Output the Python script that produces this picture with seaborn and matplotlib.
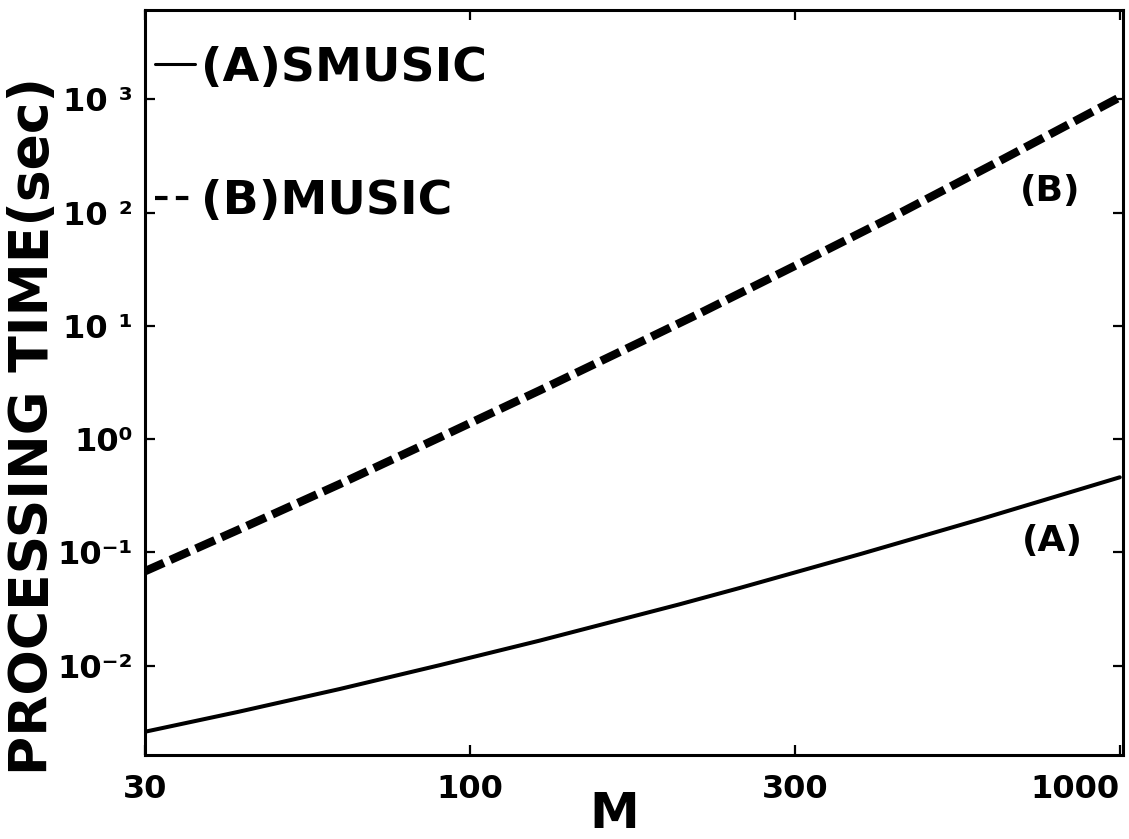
import matplotlib
matplotlib.use("Agg")
import matplotlib.pyplot as plt
import seaborn as sns
import pandas as pd
from matplotlib.lines import Line2D
from matplotlib.ticker import FixedLocator, NullLocator

# ---- data ----
M_A = [31.6, 44, 63, 90, 128, 210, 260, 400, 610, 1000]
T_A = [0.0026, 0.0039, 0.0062, 0.0101, 0.0166, 0.0347, 0.0484, 0.097, 0.196, 0.46]
M_B = [31.6, 44, 63, 90, 128, 182, 225, 323, 463, 662, 1000]
T_B = [0.068, 0.158, 0.40, 1.04, 2.69, 7.1, 12.8, 36, 102, 298, 1045]

x_tick_vals = [10 ** 1.5, 100, 10 ** 2.5, 1000]
x_tick_labels = ["30", "100", "300", "1000"]
y_tick_vals = [1e-2, 1e-1, 1, 10, 100, 1000]
y_tick_labels = ["10\u207b\u00b2", "10\u207b\u00b9", "10\u2070", "10 \u00b9", "10 \u00b2", "10 \u00b3"]

series_labels = ["(A)SMUSIC", "(B)MUSIC"]

sns.set_theme(style="white")
plt.rcParams["font.family"] = ["DejaVu Sans"]
plt.rcParams["font.weight"] = "bold"
plt.rcParams["text.color"] = "black"
plt.rcParams["axes.labelcolor"] = "black"
plt.rcParams["xtick.color"] = "black"
plt.rcParams["ytick.color"] = "black"

fig = plt.figure(figsize=(11.29, 8.39), dpi=100)
ax = fig.add_axes([145 / 1129, 84 / 839, 978 / 1129, 745 / 839])

dfA = pd.DataFrame({"M": M_A, "T": T_A})
dfB = pd.DataFrame({"M": M_B, "T": T_B})
sns.lineplot(data=dfA, x="M", y="T", ax=ax, color="black", lw=2.9, estimator=None)
sns.lineplot(data=dfB, x="M", y="T", ax=ax, color="black", lw=6.0,
             linestyle=(0, (2.5, 0.85)), estimator=None)

ax.set_xscale("log")
ax.set_yscale("log")
ax.set_xlim(10 ** 1.5, 10 ** 3.005)
ax.set_ylim(10 ** -2.79, 10 ** 3.79)

ax.xaxis.set_major_locator(FixedLocator(x_tick_vals))
ax.xaxis.set_minor_locator(NullLocator())
ax.yaxis.set_major_locator(FixedLocator(y_tick_vals))
ax.yaxis.set_minor_locator(NullLocator())
ax.set_xticklabels(x_tick_labels, fontsize=23, fontweight="bold", color="black")
ax.set_yticklabels(y_tick_labels, fontsize=23, fontweight="bold", color="black")
xl = ax.get_xticklabels()
xl[-1].set_ha("right")

ax.tick_params(axis="both", which="major", direction="in", length=7.5, width=1.6,
               color="black", top=True, right=True, bottom=True, left=True)
ax.tick_params(axis="x", pad=14)
ax.tick_params(axis="y", pad=9)

for s in ax.spines.values():
    s.set_visible(True)
    s.set_color("black")
    s.set_linewidth(2.2)

ax.set_xlabel("M", fontsize=36, fontweight="bold", color="black")
ax.xaxis.set_label_coords(0.4796, -0.047)
ax.set_ylabel("PROCESSING TIME(sec)", fontsize=38.5, fontweight="bold", color="black")
ax.yaxis.set_label_coords(-0.088, 0.441)

ax.text(0.925, 0.757, "(B)", transform=ax.transAxes, fontsize=26, fontweight="bold",
        ha="center", va="center", color="black")
ax.text(0.928, 0.287, "(A)", transform=ax.transAxes, fontsize=26, fontweight="bold",
        ha="center", va="center", color="black")

handles = [
    Line2D([], [], color="black", lw=2.2),
    Line2D([], [], color="black", lw=3.0, linestyle=(0, (3, 2))),
]
leg = ax.legend(handles, series_labels, loc="upper left",
                bbox_to_anchor=(10 / 978, 1 - 36 / 745), frameon=False,
                fontsize=34, handlelength=0.85, handletextpad=0.12,
                labelspacing=1.87, borderpad=0, borderaxespad=0)
for t in leg.get_texts():
    t.set_fontweight("bold")
    t.set_color("black")

fig.savefig("out.png", dpi=100, facecolor="white")
